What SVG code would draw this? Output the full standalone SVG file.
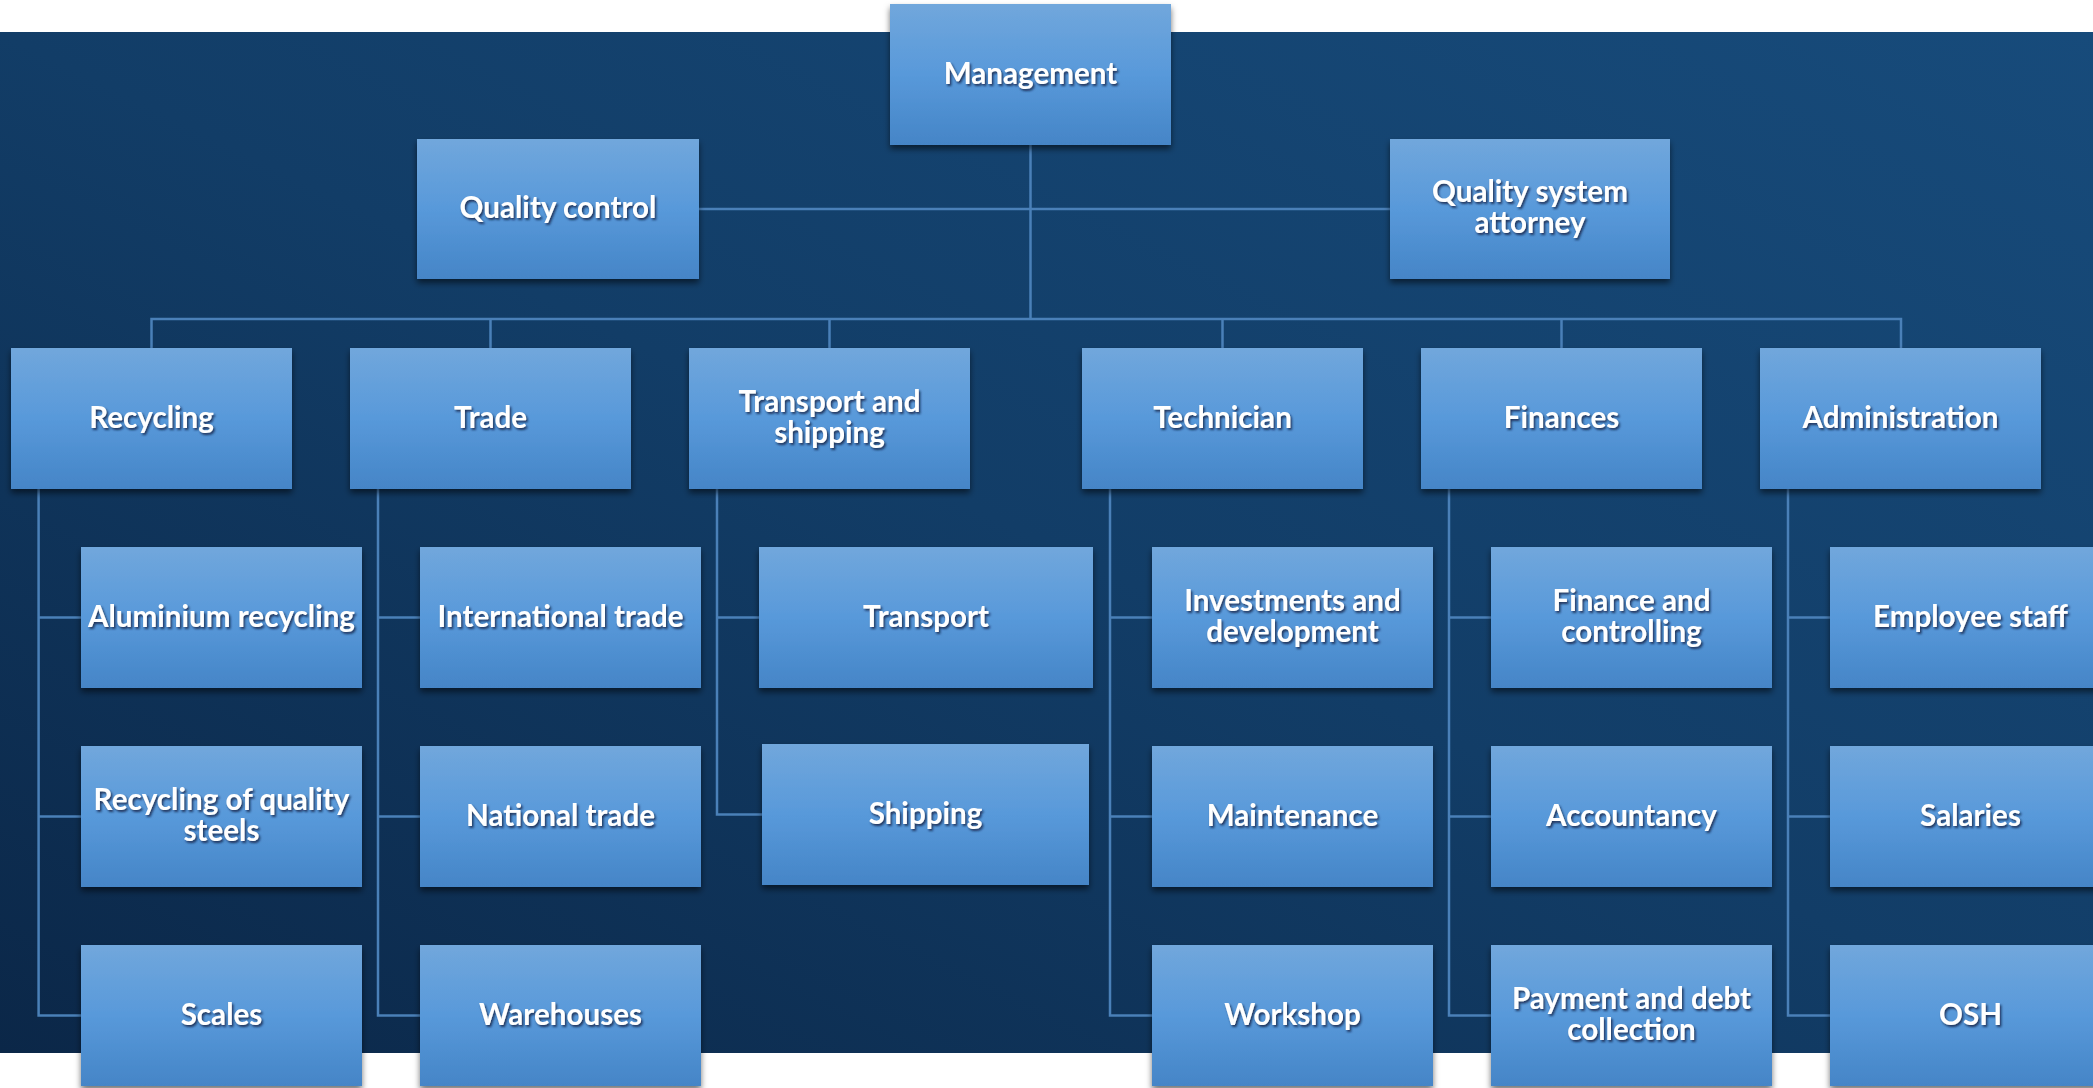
<svg xmlns="http://www.w3.org/2000/svg" width="2093" height="1088" viewBox="0 0 2093 1088">
<defs>
<linearGradient id="bg" x1="0" y1="1" x2="1" y2="0">
<stop offset="0" stop-color="#0b2748"/>
<stop offset="0.5" stop-color="#123d67"/>
<stop offset="1" stop-color="#174b7b"/>
</linearGradient>
<linearGradient id="box" x1="0" y1="0" x2="0" y2="1">
<stop offset="0" stop-color="#71a7dc"/>
<stop offset="0.5" stop-color="#5899da"/>
<stop offset="1" stop-color="#4585c7"/>
</linearGradient>
<filter id="bs" x="-10%" y="-10%" width="120%" height="130%">
<feDropShadow dx="0" dy="4" stdDeviation="3" flood-color="#000" flood-opacity="0.55"/>
</filter>
<filter id="ts" x="-10%" y="-30%" width="120%" height="160%">
<feDropShadow dx="1.5" dy="2" stdDeviation="1" flood-color="#0a1f3a" flood-opacity="0.8"/>
</filter>
</defs>
<style>
.b{fill:url(#box);filter:url(#bs)}
.t{font-family:Lato,"Liberation Sans",sans-serif;font-weight:bold;font-size:29.6px;fill:#fff;text-anchor:middle;filter:url(#ts)}
.c{fill:none;stroke:#4a80b8;stroke-width:2.5}
</style>
<rect x="0" y="0" width="2093" height="1088" fill="#fff"/>
<rect x="0" y="32" width="2093" height="1021" fill="url(#bg)"/>
<g id="connectors">
<path class="c" d="M1030.5 145V319M699 209H1390M151.5 348V319H1901V348M490.5 319V348M829.5 319V348M1222.5 319V348M1561.5 319V348"/>
<path class="c" d="M38.6 489V1015.5H81M38.6 617.5H81M38.6 816.5H81"/>
<path class="c" d="M378 489V1015.5H420M378 617.5H420M378 816.5H420"/>
<path class="c" d="M717 489V814.5H762M717 617.5H759"/>
<path class="c" d="M1110 489V1015.5H1152M1110 617.5H1152M1110 816.5H1152"/>
<path class="c" d="M1449 489V1015.5H1491M1449 617.5H1491M1449 816.5H1491"/>
<path class="c" d="M1788 489V1015.5H1830M1788 617.5H1830M1788 816.5H1830"/>
</g>
<g id="management"><rect class="b" x="890" y="4" width="281" height="141"/><text class="t" x="1030.5" y="83.5">Management</text></g>
<g id="quality-control"><rect class="b" x="417" y="139" width="282" height="140"/><text class="t" x="558" y="218">Quality control</text></g>
<g id="quality-system-attorney"><rect class="b" x="1390" y="139" width="280" height="140"/><text class="t" x="1530" y="202">Quality system</text><text class="t" x="1530" y="233">attorney</text></g>

<g id="recycling"><rect class="b" x="11" y="348" width="281" height="141"/><text class="t" x="151.5" y="427.5">Recycling</text></g>
<g id="trade"><rect class="b" x="350" y="348" width="281" height="141"/><text class="t" x="490.5" y="427.5">Trade</text></g>
<g id="transport-shipping"><rect class="b" x="689" y="348" width="281" height="141"/><text class="t" x="829.5" y="411.5">Transport and</text><text class="t" x="829.5" y="442.5">shipping</text></g>
<g id="technician"><rect class="b" x="1082" y="348" width="281" height="141"/><text class="t" x="1222.5" y="427.5">Technician</text></g>
<g id="finances"><rect class="b" x="1421" y="348" width="281" height="141"/><text class="t" x="1561.5" y="427.5">Finances</text></g>
<g id="administration"><rect class="b" x="1760" y="348" width="281" height="141"/><text class="t" x="1900.5" y="427.5">Administration</text></g>

<g id="aluminium-recycling"><rect class="b" x="81" y="547" width="281" height="141"/><text class="t" x="221.5" y="626.5">Aluminium recycling</text></g>
<g id="recycling-quality-steels"><rect class="b" x="81" y="746" width="281" height="141"/><text class="t" x="221.5" y="809.5">Recycling of quality</text><text class="t" x="221.5" y="840.5">steels</text></g>
<g id="scales"><rect class="b" x="81" y="945" width="281" height="141"/><text class="t" x="221.5" y="1024.5">Scales</text></g>

<g id="international-trade"><rect class="b" x="420" y="547" width="281" height="141"/><text class="t" x="560.5" y="626.5">International trade</text></g>
<g id="national-trade"><rect class="b" x="420" y="746" width="281" height="141"/><text class="t" x="560.5" y="825.5">National trade</text></g>
<g id="warehouses"><rect class="b" x="420" y="945" width="281" height="141"/><text class="t" x="560.5" y="1024.5">Warehouses</text></g>

<g id="transport"><rect class="b" x="759" y="547" width="334" height="141"/><text class="t" x="926" y="626.5">Transport</text></g>
<g id="shipping"><rect class="b" x="762" y="744" width="327" height="141"/><text class="t" x="925.5" y="823.5">Shipping</text></g>

<g id="investments-development"><rect class="b" x="1152" y="547" width="281" height="141"/><text class="t" x="1292.5" y="610.5">Investments and</text><text class="t" x="1292.5" y="641.5">development</text></g>
<g id="maintenance"><rect class="b" x="1152" y="746" width="281" height="141"/><text class="t" x="1292.5" y="825.5">Maintenance</text></g>
<g id="workshop"><rect class="b" x="1152" y="945" width="281" height="141"/><text class="t" x="1292.5" y="1024.5">Workshop</text></g>

<g id="finance-controlling"><rect class="b" x="1491" y="547" width="281" height="141"/><text class="t" x="1631.5" y="610.5">Finance and</text><text class="t" x="1631.5" y="641.5">controlling</text></g>
<g id="accountancy"><rect class="b" x="1491" y="746" width="281" height="141"/><text class="t" x="1631.5" y="825.5">Accountancy</text></g>
<g id="payment-debt-collection"><rect class="b" x="1491" y="945" width="281" height="141"/><text class="t" x="1631.5" y="1008.5">Payment and debt</text><text class="t" x="1631.5" y="1039.5">collection</text></g>

<g id="employee-staff"><rect class="b" x="1830" y="547" width="281" height="141"/><text class="t" x="1970.5" y="626.5">Employee staff</text></g>
<g id="salaries"><rect class="b" x="1830" y="746" width="281" height="141"/><text class="t" x="1970.5" y="825.5">Salaries</text></g>
<g id="osh"><rect class="b" x="1830" y="945" width="281" height="141"/><text class="t" x="1970.5" y="1024.5">OSH</text></g>
</svg>
